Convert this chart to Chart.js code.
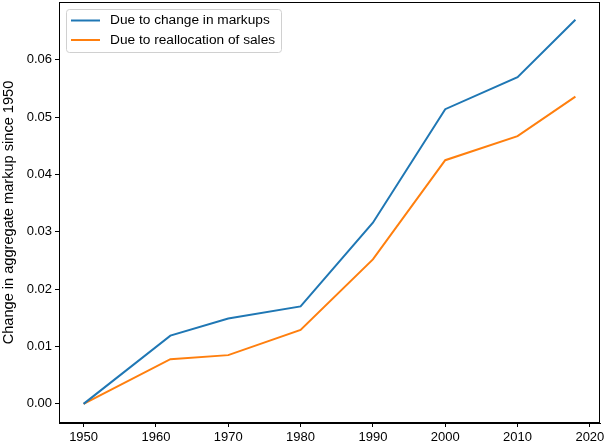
<!DOCTYPE html>
<html>
<head>
<meta charset="utf-8">
<script src="https://cdn.jsdelivr.net/npm/chart.js@4.4.1/dist/chart.umd.min.js"></script>
<style>
  html, body { margin: 0; padding: 0; background: #fff; }
  #wrap { width: 605px; height: 446px; }
</style>
</head>
<body>
<div id="wrap"><canvas id="markupChart" width="605" height="446"></canvas></div>
<script>
// values
const years = [1950, 1962, 1970, 1980, 1990, 2000, 2010, 2018];
const markupChange = [0.0, 0.0119, 0.0149, 0.0170, 0.0316, 0.0514, 0.0570, 0.0670];
const reallocation = [0.0, 0.0078, 0.0085, 0.0129, 0.0252, 0.0425, 0.0467, 0.0536];
const xTicks = [1950, 1960, 1970, 1980, 1990, 2000, 2010, 2020];
const yTicks = [0.00, 0.01, 0.02, 0.03, 0.04, 0.05, 0.06];

const FONT = "'Liberation Sans', Arial, sans-serif";

function toPoints(xs, ys) {
  return xs.map((x, i) => ({ x: x, y: ys[i] }));
}

// frame round the plot area plus the legend box, like matplotlib
const framePlugin = {
  id: 'frame',
  afterDraw(chart) {
    const ctx = chart.ctx;
    const a = chart.chartArea;
    ctx.save();
    ctx.strokeStyle = '#000';
    ctx.lineWidth = 1;
    ctx.strokeRect(a.left + 0.5, a.top + 0.5, a.right - a.left - 1, a.bottom - a.top - 1);

    // legend
    const x0 = a.left + 7, y0 = a.top + 7;
    const w = 215, h = 43;
    ctx.fillStyle = 'rgba(255,255,255,0.8)';
    ctx.strokeStyle = '#d0d0d0';
    ctx.beginPath();
    ctx.roundRect(x0 + 0.5, y0 + 0.5, w, h, 3);
    ctx.fill();
    ctx.stroke();
    ctx.font = '13.7px ' + FONT;
    ctx.textBaseline = 'middle';
    chart.data.datasets.forEach((ds, i) => {
      const yy = y0 + 11.5 + i * 19.5;
      ctx.strokeStyle = ds.borderColor;
      ctx.lineWidth = 2;
      ctx.beginPath();
      ctx.moveTo(x0 + 5, yy);
      ctx.lineTo(x0 + 34, yy);
      ctx.stroke();
      ctx.fillStyle = '#000';
      ctx.fillText(ds.label, x0 + 44, yy);
    });
    ctx.restore();
  }
};

const ctx = document.getElementById('markupChart').getContext('2d');
new Chart(ctx, {
  type: 'line',
  data: {
    datasets: [
      {
        label: 'Due to change in markups',
        data: toPoints(years, markupChange),
        borderColor: '#1f77b4',
        borderWidth: 2,
        pointRadius: 0,
        tension: 0,
        fill: false,
      },
      {
        label: 'Due to reallocation of sales',
        data: toPoints(years, reallocation),
        borderColor: '#ff7f0e',
        borderWidth: 2,
        pointRadius: 0,
        tension: 0,
        fill: false,
      },
    ],
  },
  options: {
    responsive: false,
    animation: false,
    layout: { padding: { top: 2, right: 5, left: 0, bottom: 0 } },
    plugins: {
      legend: { display: false },
      tooltip: { enabled: false },
    },
    scales: {
      x: {
        type: 'linear',
        min: 1946.6,
        max: 2021.4,
        afterBuildTicks(scale) {
          scale.ticks = xTicks.map((v) => ({ value: v }));
        },
        afterFit(scale) {
          scale.height = 23;
          scale.paddingLeft = 0;
          scale.paddingRight = 0;
        },
        grid: { display: true, drawOnChartArea: false, drawTicks: true, tickLength: 4, color: '#000' },
        border: { display: true, color: '#000' },
        ticks: {
          color: '#000',
          font: { family: FONT, size: 13 },
          padding: 3,
          maxRotation: 0,
          callback: (v) => String(v),
        },
      },
      y: {
        min: -0.00334,
        max: 0.0701,
        afterBuildTicks(scale) {
          scale.ticks = yTicks.map((v) => ({ value: v }));
        },
        afterFit(scale) {
          scale.width = 59;
          scale.paddingTop = 0;
          scale.paddingBottom = 0;
        },
        grid: { display: true, drawOnChartArea: false, drawTicks: true, tickLength: 4, color: '#000' },
        border: { display: true, color: '#000' },
        ticks: {
          color: '#000',
          font: { family: FONT, size: 13 },
          padding: 3,
          callback: (v) => v.toFixed(2),
        },
        title: {
          display: true,
          text: 'Change in aggregate markup since 1950',
          color: '#000',
          font: { family: FONT, size: 14.6 },
          padding: { top: 0, bottom: 1 },
        },
      },
    },
  },
  plugins: [framePlugin],
});
</script>
</body>
</html>
